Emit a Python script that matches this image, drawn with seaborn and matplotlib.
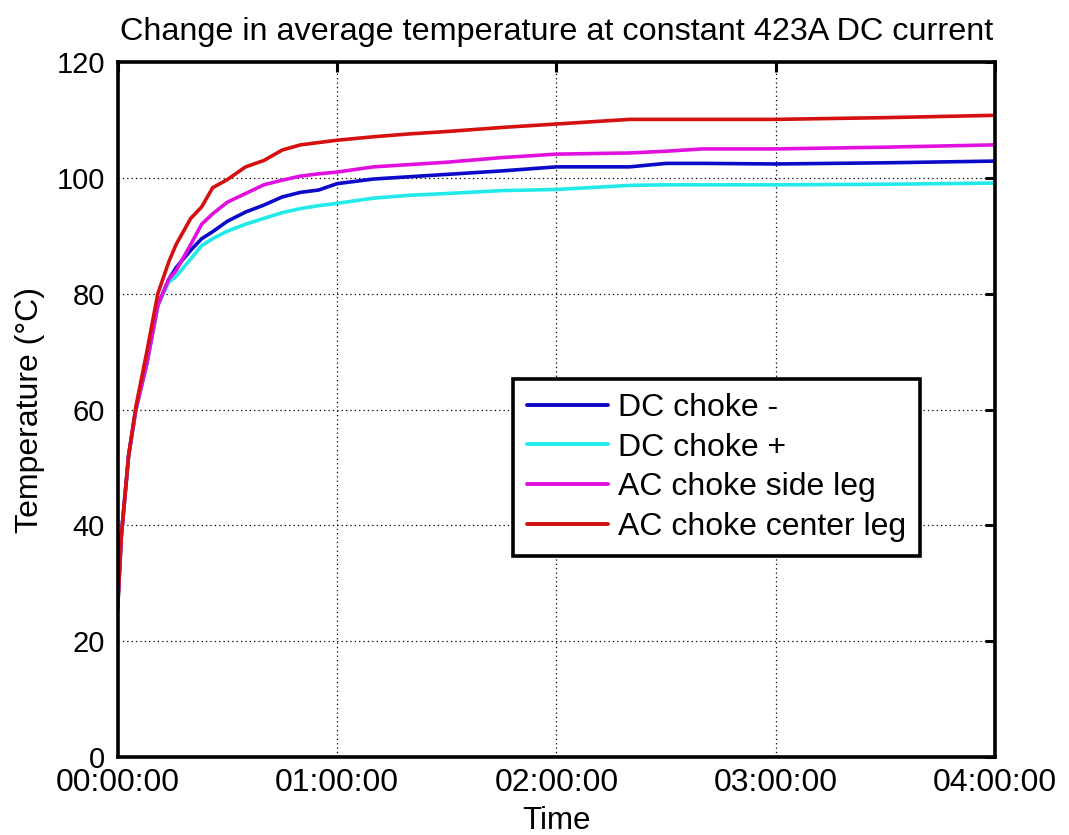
import numpy as np
import pandas as pd
import matplotlib
matplotlib.use("Agg")
import matplotlib.pyplot as plt
import seaborn as sns
from matplotlib.ticker import FuncFormatter

# time in minutes
time_min = [0, 1, 3, 5, 8, 11, 14, 16, 20, 23, 26, 30, 35, 40, 45, 50, 55, 60,
            70, 80, 90, 105, 120, 140, 150, 160, 180, 210, 240]
dc_minus = [25.5, 38, 52, 60, 68, 78, 82.5, 84.5, 87.5, 89.5, 90.7, 92.5, 94.1, 95.3,
            96.7, 97.5, 97.9, 99.0, 99.8, 100.2, 100.6, 101.2, 101.9, 101.9, 102.5,
            102.5, 102.4, 102.6, 102.9]
dc_plus = [25.5, 38, 52, 60, 68, 78, 82.0, 83.0, 86.0, 88.3, 89.5, 90.8, 92.0, 93.0,
           94.0, 94.7, 95.2, 95.6, 96.5, 97.0, 97.3, 97.8, 98.0, 98.7, 98.8,
           98.8, 98.8, 98.9, 99.1]
ac_side = [25.5, 38, 52, 60, 68, 78, 82.5, 84.0, 88.5, 92.0, 93.8, 95.8, 97.3, 98.8,
           99.6, 100.3, 100.7, 101.0, 101.9, 102.3, 102.7, 103.5, 104.1, 104.3, 104.6,
           105.0, 105.0, 105.3, 105.7]
ac_center = [25.5, 38, 52, 60.5, 70, 80, 85.5, 88.5, 93.0, 95.0, 98.3, 99.7, 101.9, 103.0,
             104.8, 105.7, 106.1, 106.5, 107.1, 107.6, 108.0, 108.7, 109.3, 110.1, 110.1,
             110.1, 110.1, 110.4, 110.8]
series_names = ["DC choke -", "DC choke +", "AC choke side leg", "AC choke center leg"]
colors = ["#0A0AC8", "#22EAEA", "#E010E0", "#D41010"]
x_ticks = [0, 60, 120, 180, 240]
y_ticks = [0, 20, 40, 60, 80, 100, 120]

frames = []
for name, vals in zip(series_names, [dc_minus, dc_plus, ac_side, ac_center]):
    frames.append(pd.DataFrame({"Time": time_min, "Temp": vals, "Series": name}))
df = pd.concat(frames, ignore_index=True)

sns.set_style("white")
plt.rcParams["font.family"] = ["Liberation Sans", "DejaVu Sans"]
plt.rcParams["text.color"] = "black"
plt.rcParams["axes.labelcolor"] = "black"
plt.rcParams["xtick.color"] = "black"
plt.rcParams["ytick.color"] = "black"

fig = plt.figure(figsize=(10.69, 8.35), dpi=100)
ax = fig.add_axes([0.110, 0.0934, 0.821, 0.8323])

sns.lineplot(data=df, x="Time", y="Temp", hue="Series", hue_order=series_names,
             palette=colors, linewidth=2.6, ax=ax, estimator=None, sort=False)

ax.set_xlim(0, 240)
ax.set_ylim(0, 120)
ax.set_xticks(x_ticks)
ax.set_yticks(y_ticks)

def fmt(v, pos):
    h = int(v // 60)
    m = int(v % 60)
    return f"{h:02d}:{m:02d}:00"

ax.xaxis.set_major_formatter(FuncFormatter(fmt))
ax.tick_params(direction="in", length=7, width=2.2, top=True, right=True, colors="black")
ax.tick_params(axis="x", labelsize=23, pad=8)
ax.tick_params(axis="y", labelsize=21, pad=9)
for s in ax.spines.values():
    s.set_linewidth(2.6)
    s.set_color("black")
ax.grid(True, color="black", linestyle=(0, (1, 2.5)), linewidth=0.9)

ax.set_xlabel("Time", fontsize=22.5, labelpad=6)
ax.set_ylabel("Temperature (\u00b0C)", fontsize=23, labelpad=8)
ax.set_title("Change in average temperature at constant 423A DC current",
             fontsize=23.3, pad=16)

leg = ax.legend(loc="lower left", bbox_to_anchor=(0.45, 0.289), fontsize=23,
                frameon=True, fancybox=False, framealpha=1, edgecolor="black",
                handlelength=2.55, handletextpad=0.3, labelspacing=0.3,
                borderpad=0.45, borderaxespad=0, title=None)
leg.get_frame().set_linewidth(2.6)
for line in leg.get_lines():
    line.set_linewidth(2.8)

fig.savefig("out.png", dpi=100, facecolor="white")
